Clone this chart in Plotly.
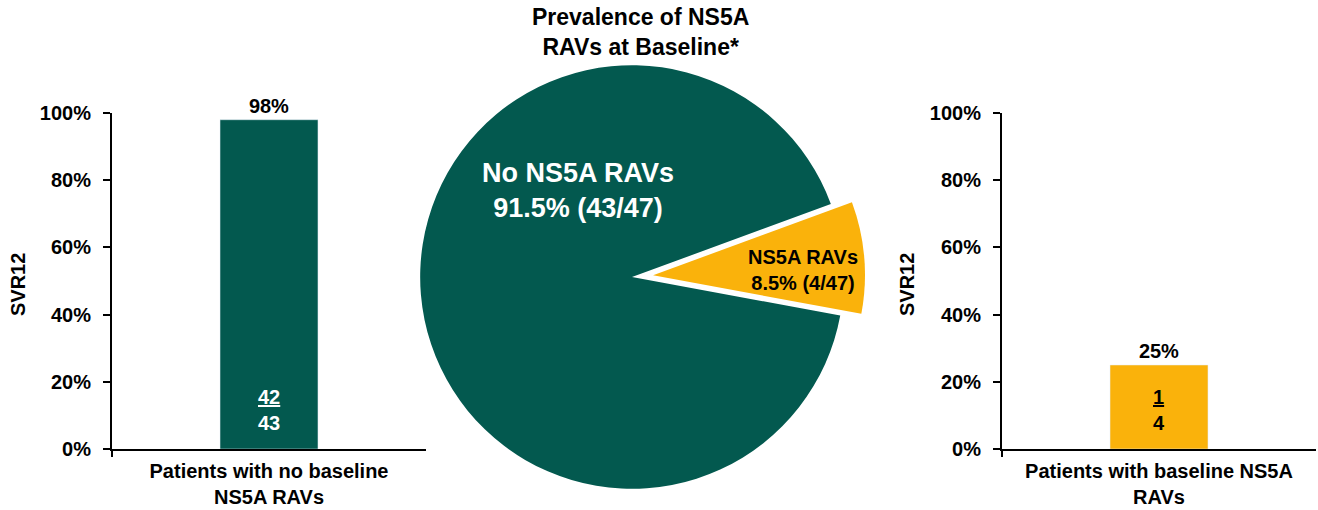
import plotly.graph_objects as go

# ---- data ----
pie_labels = ["No NS5A RAVs", "NS5A RAVs"]
pie_counts = [43, 4]
pie_colors = ["#03594F", "#FAB20B"]
pie_pull = [0, 0.1]

left_category = ["Patients with no baseline<br>NS5A RAVs"]
left_svr = [98]
left_frac = ("42", "43")

right_category = ["Patients with baseline NS5A<br>RAVs"]
right_svr = [25]
right_frac = ("1", "4")

y_ticks = [0, 20, 40, 60, 80, 100]
y_tick_text = [f"{v}%" for v in y_ticks]

title_text = "Prevalence of NS5A<br>RAVs at Baseline*"
y_title = "SVR12"

FONT = "Liberation Sans, Arial, sans-serif"
W, H = 1318, 510

fig = go.Figure()

total = sum(pie_counts)
fig.add_trace(go.Pie(
    labels=pie_labels, values=pie_counts, sort=False,
    direction="clockwise", rotation=100.5,
    marker=dict(colors=pie_colors, line=dict(width=0)),
    pull=pie_pull, textinfo="none", hoverinfo="label+value+percent",
    domain=dict(x=[0.2795, 0.6795], y=[0.0, 0.9137]),
    showlegend=False, automargin=False,
))

fig.add_trace(go.Bar(
    x=left_category, y=left_svr, marker_color=pie_colors[0], width=0.312,
    text=[f"{v}%" for v in left_svr], textposition="outside",
    textfont=dict(family=FONT, size=20, color="black", weight="bold"),
    cliponaxis=False, xaxis="x", yaxis="y", showlegend=False,
))
fig.add_trace(go.Bar(
    x=right_category, y=right_svr, marker_color=pie_colors[1], width=0.312,
    text=[f"{v}%" for v in right_svr], textposition="outside",
    textfont=dict(family=FONT, size=20, color="black", weight="bold"),
    cliponaxis=False, xaxis="x2", yaxis="y2", showlegend=False,
))

ydom = [61 / H, 397 / H]
yaxis_common = dict(
    range=[0, 100], tickmode="array", tickvals=y_ticks, ticktext=y_tick_text,
    ticks="outside", automargin=False, ticklabelstandoff=8,
    ticklen=7, tickwidth=2, tickcolor="black", showline=True, linewidth=2,
    linecolor="black", showgrid=False, zeroline=False, domain=ydom,
    tickfont=dict(family=FONT, size=20, color="black", weight="bold"),
)
xaxis_common = dict(
    type="category", tickson="boundaries", ticks="outside", ticklen=6,
    tickwidth=2, tickcolor="black", showline=True, linewidth=2,
    linecolor="black", showgrid=False, zeroline=False, automargin=False,
    ticklabelstandoff=3,
    tickfont=dict(family=FONT, size=20, color="black", weight="bold"),
)

annotations = []
annotations.append(dict(
    text=title_text, xref="paper", yref="paper", x=640 / W, y=1 - 32 / H,
    xanchor="center", yanchor="middle", showarrow=False,
    font=dict(family=FONT, size=23, color="black", weight="bold"),
))
pct = [c / total * 100 for c in pie_counts]
annotations.append(dict(
    text=f"{pie_labels[0]}<br>{pct[0]:.1f}% ({pie_counts[0]}/{total})",
    xref="paper", yref="paper", x=578 / W, y=1 - 190 / H,
    xanchor="center", yanchor="middle", showarrow=False,
    font=dict(family=FONT, size=27, color="white", weight="bold"),
))
annotations.append(dict(
    text=f"{pie_labels[1]}<br>{pct[1]:.1f}% ({pie_counts[1]}/{total})",
    xref="paper", yref="paper", x=803 / W, y=1 - 270 / H,
    xanchor="center", yanchor="middle", showarrow=False,
    font=dict(family=FONT, size=20, color="black", weight="bold"),
))
for xr, yr, cat, frac, col in [("x", "y", left_category[0], left_frac, "white"),
                               ("x2", "y2", right_category[0], right_frac, "black")]:
    annotations.append(dict(
        text=f"<u>{frac[0]}</u><br>{frac[1]}", xref=xr, yref=yr, x=cat, y=11.5,
        xanchor="center", yanchor="middle", showarrow=False,
        font=dict(family=FONT, size=20, color=col, weight="bold"),
    ))
for xp in [18 / W, 907 / W]:
    annotations.append(dict(
        text=y_title, xref="paper", yref="paper", x=xp, y=1 - 285 / H,
        xanchor="center", yanchor="middle", showarrow=False, textangle=-90,
        font=dict(family=FONT, size=20, color="black", weight="bold"),
    ))

fig.update_layout(
    width=W, height=H, margin=dict(l=0, r=0, t=0, b=0, pad=0, autoexpand=False),
    paper_bgcolor="white", plot_bgcolor="white", showlegend=False,
    xaxis=dict(domain=[112 / W, 426 / W], anchor="y", **xaxis_common),
    yaxis=dict(anchor="x", **yaxis_common),
    xaxis2=dict(domain=[1002 / W, 1316 / W], anchor="y2", **xaxis_common),
    yaxis2=dict(anchor="x2", **yaxis_common),
    annotations=annotations,
    font=dict(family=FONT),
)

fig.write_html("out.html")
